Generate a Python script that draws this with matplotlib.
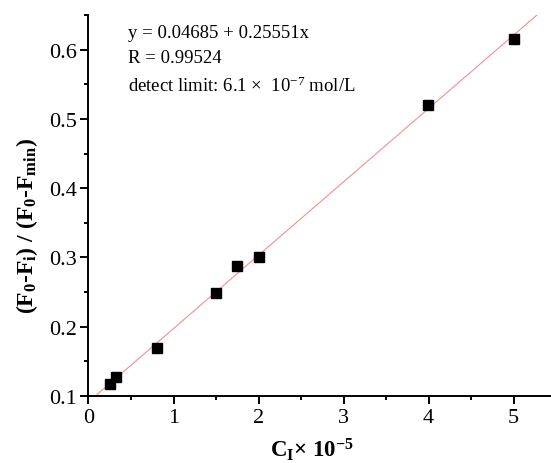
import numpy as np
import matplotlib
matplotlib.use("Agg")
import matplotlib.pyplot as plt
from matplotlib.ticker import MultipleLocator

# Calibration data ------------------------------------------------------------

conc = [0.25, 0.32, 0.80, 1.50, 1.75, 2.00, 3.99, 5.00]          # C_I x 1e-5
ratio = [0.117, 0.127, 0.169, 0.249, 0.287, 0.301, 0.520, 0.615]  # (F0-Fi)/(F0-Fmin)

fit_label = "y = 0.04685 + 0.25551x"
r_label = "R = 0.99524"
limit_label = r"detect limit: 6.1 $\times$  10$^{-7}$ mol/L"

# Style -----------------------------------------------------------------------

plt.rcParams["font.family"] = "Liberation Serif"
plt.rcParams["mathtext.default"] = "regular"
plt.rcParams["axes.linewidth"] = 1.4

fig = plt.figure(figsize=(5.51, 4.64), dpi=100)
ax = fig.add_axes([0.1606, 0.1444, 0.8394, 0.8211])

# Linear fit through the points
slope, intercept = np.polyfit(conc, ratio, 1)
x_line = np.array([0.0, 5.44])
ax.plot(x_line, intercept + slope * x_line, color="#f29090", lw=0.8, zorder=1)

ax.plot(conc, ratio, "s", color="black", markersize=7, zorder=2)

ax.set_xlim(0, 5.44)
ax.set_ylim(0.1, 0.65)
ax.xaxis.set_major_locator(MultipleLocator(1))
ax.xaxis.set_minor_locator(MultipleLocator(0.5))
ax.set_yticks([0.1, 0.2, 0.3, 0.4, 0.5, 0.6])
ax.set_yticklabels(["0.1", "0.2", "0.3", "0.4", "0.5", "0.6"])
ax.yaxis.set_minor_locator(MultipleLocator(0.05))

for side in ("top", "right"):
    ax.spines[side].set_visible(False)

ax.tick_params(which="major", direction="out", length=5.5, width=1.4,
               labelsize=16, pad=3)
ax.tick_params(which="minor", direction="out", length=3, width=1.4)

ax.set_xlabel(r"C$_I$$\times$ 10$^{-5}$", fontsize=16.5, fontweight="bold")
ax.xaxis.set_label_coords(0.483, -0.103)
ax.set_ylabel(r"(F$_0$-F$_i$) / (F$_0$-F$_{min}$)", fontsize=17,
              fontweight="bold")
ax.yaxis.set_label_coords(-0.104, 0.4475)

# Fit summary
ax.text(0.46, 0.618, fit_label, fontsize=13.5, va="baseline")
ax.text(0.46, 0.582, r_label, fontsize=13.5, va="baseline")
ax.text(0.46, 0.540, limit_label, fontsize=13.5, va="baseline")

fig.savefig("out.png", dpi=100)
